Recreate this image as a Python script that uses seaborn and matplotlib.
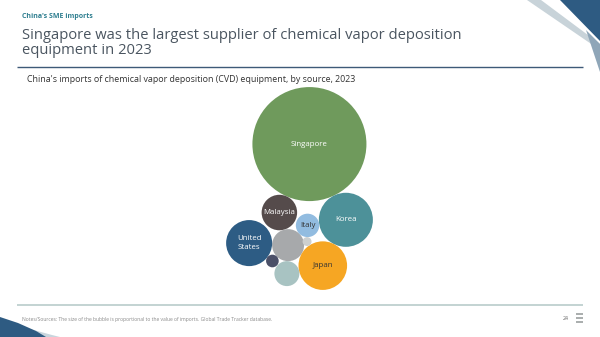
import numpy as np
import pandas as pd
import matplotlib
matplotlib.use("Agg")
import matplotlib.pyplot as plt
from matplotlib.patches import Polygon
import seaborn as sns

# ---- data (bubble area proportional to import value) ----
sources = ["Singapore", "Korea", "Malaysia", "Other A", "Italy", "Japan",
           "United States", "Other B", "Other C", "Other D"]
values = [3250, 730, 315, 256, 137, 590, 530, 40, 156, 20]
labels = ["Singapore", "Korea", "Malaysia", "", "Italy", "Japan",
          "United\nStates", "", "", ""]

colors = {"Singapore": "#6F9A5C", "Korea": "#4D9199", "Malaysia": "#554B4B",
          "Other A": "#A7A9AB", "Italy": "#92BCE0", "Japan": "#F6A623",
          "United States": "#2D5C84", "Other B": "#4B5068",
          "Other C": "#A8C3C2", "Other D": "#CDD0D0"}
text_colors = {"Italy": "#333333", "Japan": "#333333"}

sns.set_theme(style="white")
plt.rcParams["font.family"] = ["Open Sans", "DejaVu Sans"]

W, H, DPI = 600, 337, 100
fig = plt.figure(figsize=(W / DPI, H / DPI), dpi=DPI)
ax = fig.add_axes([0, 0, 1, 1])
ax.set_xlim(0, W)
ax.set_ylim(H, 0)
ax.axis("off")

# ---- packing layout (pixel units, y down) ----
K = 1.0  # px per sqrt(value)
rad = {s: K * np.sqrt(v) for s, v in zip(sources, values)}
pos = {}

def tangent(parent, r, ang_deg):
    p = pos[parent]
    a = np.radians(ang_deg)
    d = rad[parent] + r
    return p + d * np.array([np.cos(a), np.sin(a)])

def nestle(a, b, r, side=1):
    pa, pb = pos[a], pos[b]
    A, B = rad[a] + r, rad[b] + r
    dv = pb - pa
    d = np.hypot(*dv)
    u = dv / d
    x = (A * A - B * B + d * d) / (2 * d)
    h = np.sqrt(max(A * A - x * x, 0))
    perp = np.array([-u[1], u[0]])
    return pa + x * u + side * h * perp

pos["Singapore"] = np.array([0.0, 0.0])
pos["Korea"] = tangent("Singapore", rad["Korea"], 64.3)
pos["Malaysia"] = tangent("Singapore", rad["Malaysia"], 113.7)
pos["Other A"] = tangent("Malaysia", rad["Other A"], 75)
pos["Italy"] = nestle("Korea", "Other A", rad["Italy"], 1)
pos["Japan"] = nestle("Korea", "Other A", rad["Japan"], -1)
pos["United States"] = tangent("Other A", rad["United States"], 183)
pos["Other B"] = nestle("United States", "Other A", rad["Other B"], 1)
pos["Other C"] = nestle("Other A", "Japan", rad["Other C"], 1)
pos["Other D"] = nestle("Italy", "Japan", rad["Other D"], 1)

xs = np.array([pos[s][0] for s in sources])
ys = np.array([pos[s][1] for s in sources])
rs = np.array([rad[s] for s in sources])
cx, cy = 299.5, 188.5
xs = xs + cx - ((xs - rs).min() + (xs + rs).max()) / 2
ys = ys + cy - ((ys - rs).min() + (ys + rs).max()) / 2

df = pd.DataFrame({"source": sources, "value": values, "x": xs, "y": ys})

pt_per_px = 72 / DPI
vmax = max(values)
smax = (2 * K * np.sqrt(vmax) * pt_per_px) ** 2
sns.scatterplot(data=df, x="x", y="y", hue="source", palette=colors,
                size="value", sizes=(0, smax), size_norm=(0, vmax),
                linewidth=0, alpha=1, legend=False, ax=ax, zorder=3)

for s, lab, x, y in zip(sources, labels, xs, ys):
    if lab:
        ax.text(x, y, lab, ha="center", va="center", fontsize=5.7,
                color=text_colors.get(s, "white"), zorder=4, linespacing=1.5)

# ---- slide decoration ----
ax.text(22, 16, "China's SME imports", fontsize=5, fontweight="bold",
        color="#2F7F90", va="center")
ax.text(22, 43, "Singapore was the largest supplier of chemical vapor deposition\nequipment in 2023",
        fontsize=10.6, color="#4A5560", va="center", linespacing=1.05)
ax.plot([17, 583], [66.5, 66.5], color="#3E5A78", lw=1, solid_capstyle="butt")
ax.text(27, 80, "China's imports of chemical vapor deposition (CVD) equipment, by source, 2023",
        fontsize=6.4, color="#333333", va="center")
ax.plot([17, 583], [305, 305], color="#B9CCCB", lw=1.2, solid_capstyle="butt")
ax.text(22, 319, "Notes/Sources: The size of the bubble is proportional to the value of imports. Global Trade Tracker database.",
        fontsize=3.65, color="#8A8A8A", va="center")
ax.text(566, 319, "24", fontsize=3.8, color="#666666", va="center", ha="center")
# logo approximation
for yy in (314, 318, 322):
    ax.plot([576, 583], [yy, yy], color="#A9ADAD", lw=1.4, solid_capstyle="butt")

# top-right shapes
ax.add_patch(Polygon([(527, 0), (541, 0), (600, 44), (600, 50)], closed=True,
                     color="#C8D3D9", lw=0, zorder=1))
ax.add_patch(Polygon([(560, 0), (600, 0), (600, 41)], closed=True,
                     color="#2E5B82", lw=0, zorder=2))
ax.add_patch(Polygon([(586, 30), (600, 44), (600, 72)], closed=True,
                     color="#8FA6B8", lw=0, zorder=2))
# bottom-left swoosh
ax.add_patch(Polygon([(0, 322), (30, 329), (52, 335), (60, 337), (0, 337)], closed=True,
                     color="#C8D5DD", lw=0, zorder=1))
ax.add_patch(Polygon([(0, 317), (18, 323), (36, 331), (46, 337), (0, 337)], closed=True,
                     color="#2E5B82", lw=0, zorder=2))

fig.savefig("out.png", dpi=DPI)
